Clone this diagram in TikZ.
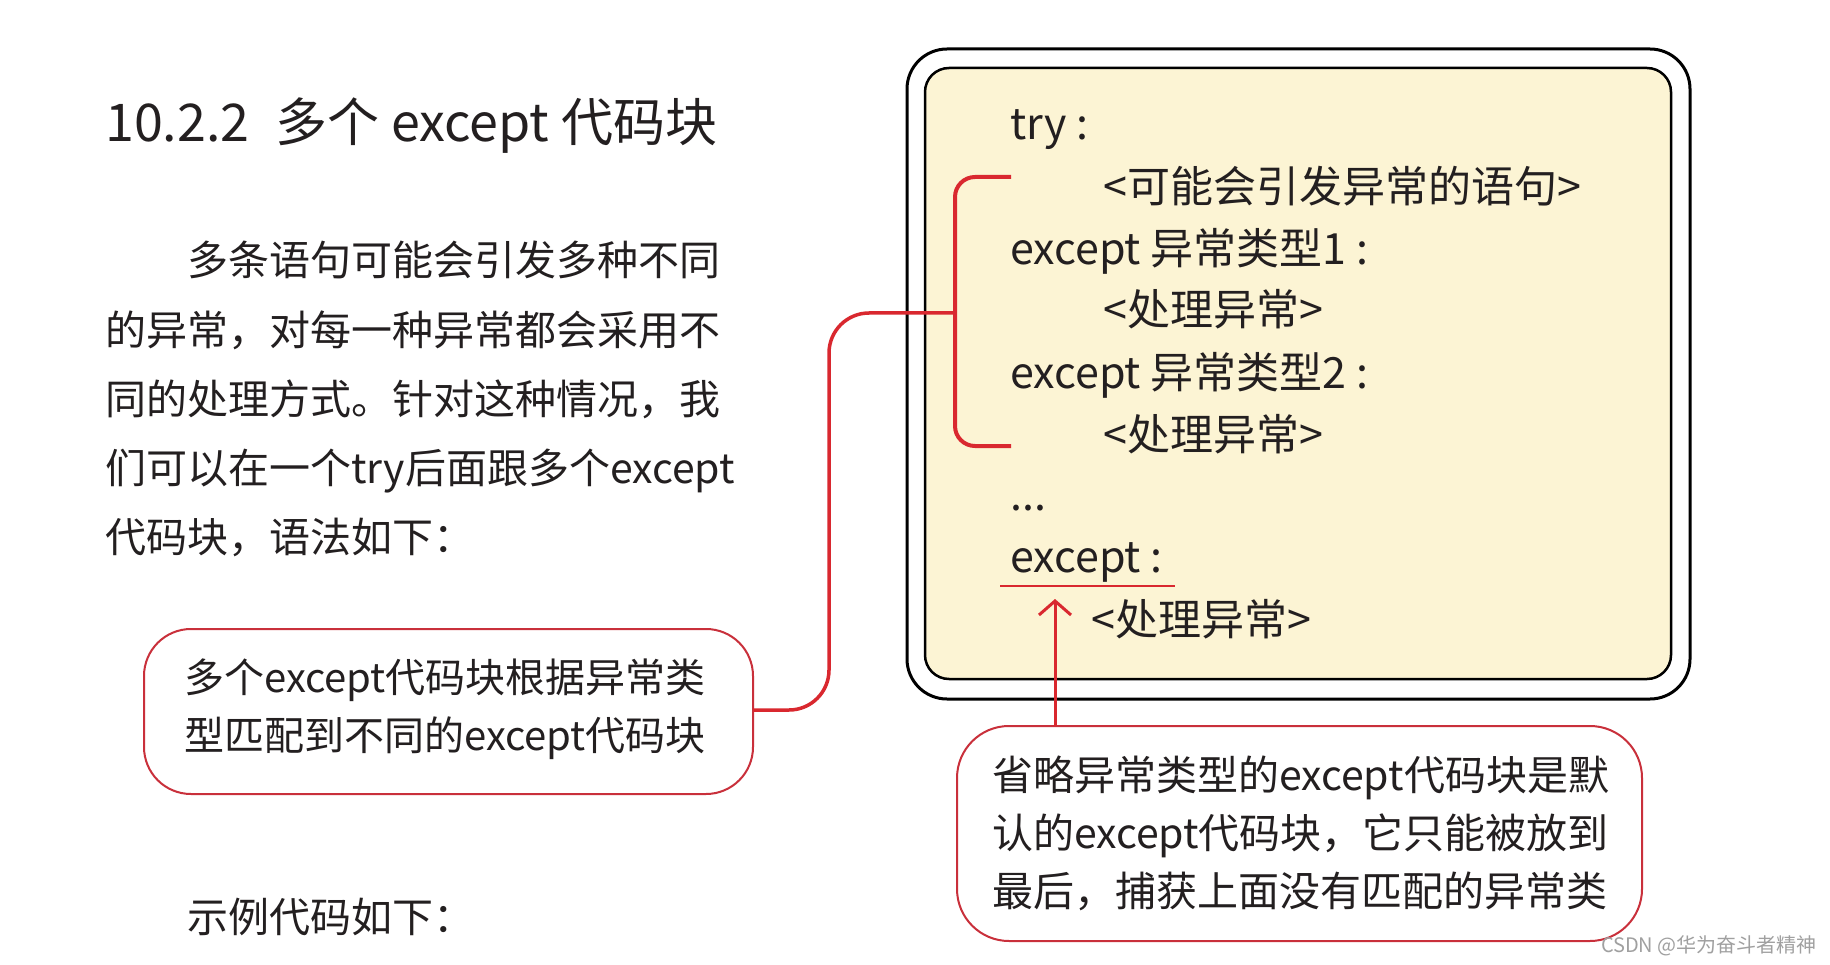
\documentclass[tikz,border=0pt]{standalone}
\usepackage{fontspec}
\setmainfont{Noto Sans CJK SC}
\usetikzlibrary{arrows.meta}
\definecolor{boxfill}{HTML}{FCF4D4}
\definecolor{redline}{HTML}{D9282F}
\definecolor{calloutred}{HTML}{C9303B}
\definecolor{txt}{HTML}{231F20}
\definecolor{wm}{HTML}{A0A0A0}
\begin{document}
\begin{tikzpicture}[x=1pt,y=-1pt,
  txtnode/.style={anchor=base west, inner sep=0pt, text=txt},
  titlefont/.style={txtnode, font=\fontsize{52}{60}\selectfont},
  bodytext/.style={txtnode, font=\fontsize{41}{49}\selectfont},
  calltext/.style={txtnode, font=\fontsize{40}{48}\selectfont},
  codetext/.style={txtnode, font=\fontsize{43}{50}\selectfont},
  callout/.style={draw=calloutred, line width=2pt, fill=white},
  redconn/.style={draw=redline, line width=4pt}]
\useasboundingbox (0,0) rectangle (1830,965);
\fill[white] (0,0) rectangle (1830,965);

% title and paragraph
\node[titlefont] (title) at (105,142) {10.2.2\hspace{0.5em}多个 except 代码块};
\node[bodytext] (p1) at (187,276) {多条语句可能会引发多种不同};
\node[bodytext] (p2) at (105,345) {的异常，对每一种异常都会采用不};
\node[bodytext] (p3) at (105,414) {同的处理方式。针对这种情况，我};
\node[bodytext] (p4) at (105,483) {们可以在一个try后面跟多个except};
\node[bodytext] (p5) at (105,552) {代码块，语法如下：};
\node[bodytext] (ex) at (187,932) {示例代码如下：};

% code boxes
\draw[line width=3pt, rounded corners=40pt] (907,49) rectangle (1690,699);
\draw[line width=2.5pt, rounded corners=24pt, fill=boxfill] (925,68) rectangle (1671,679);

\node[codetext] (c1) at (1010,140) {try :};
\node[codetext] (c2) at (1103,203) {<可能会引发异常的语句>};
\node[codetext] (c3) at (1010,265) {except 异常类型1 :};
\node[codetext] (c4) at (1103,326) {<处理异常>};
\node[codetext] (c5) at (1010,388) {except 异常类型2 :};
\node[codetext] (c6) at (1103,450) {<处理异常>};
\node[codetext] (c7) at (1010,510) {...};
\node[codetext] (c8) at (1010,572) {except :};
\node[codetext] (c9) at (1091,635) {<处理异常>};

% callouts
\draw[callout, rounded corners=47pt] (144,629) rectangle (753,794);
\coordinate (lcE) at (753,710);
\node[calltext] (l1) at (184,692) {多个except代码块根据异常类};
\node[calltext] (l2) at (184,750) {型匹配到不同的except代码块};

\draw[callout, rounded corners=52pt] (957,726) rectangle (1642,941);
\coordinate (rcN) at (1055,726);
\node[bodytext] (r1) at (992,790) {省略异常类型的except代码块是默};
\node[bodytext] (r2) at (992,848) {认的except代码块，它只能被放到};
\node[bodytext] (r3) at (992,906) {最后，捕获上面没有匹配的异常类};

% red bracket and connector
\coordinate (bTop) at (1011,177);
\coordinate (bBot) at (1011,446);
\coordinate (bMid) at (955,313);
\draw[redconn, rounded corners=20pt] (bTop) -- (955,177) -- (955,446) -- (bBot);
\draw[redconn, line width=3.5pt, rounded corners=40pt] (bMid) -- (829,313) -- (829,710) -- (lcE);

% underline and arrow
\coordinate (ulL) at (1000,586);
\coordinate (ulR) at (1175,586);
\draw[draw=redline, line width=2pt] (ulL) -- (ulR);
\coordinate (arTip) at (1055,599);
\draw[draw=redline, line width=3pt, -{Straight Barb[length=14pt,width=32pt]}] (rcN) -- (arTip);

% watermark
\node[anchor=base east, inner sep=0pt, text=wm, font=\fontsize{20}{23}\selectfont] (wmk) at (1817,952) {CSDN @华为奋斗者精神};
\end{tikzpicture}
\end{document}
